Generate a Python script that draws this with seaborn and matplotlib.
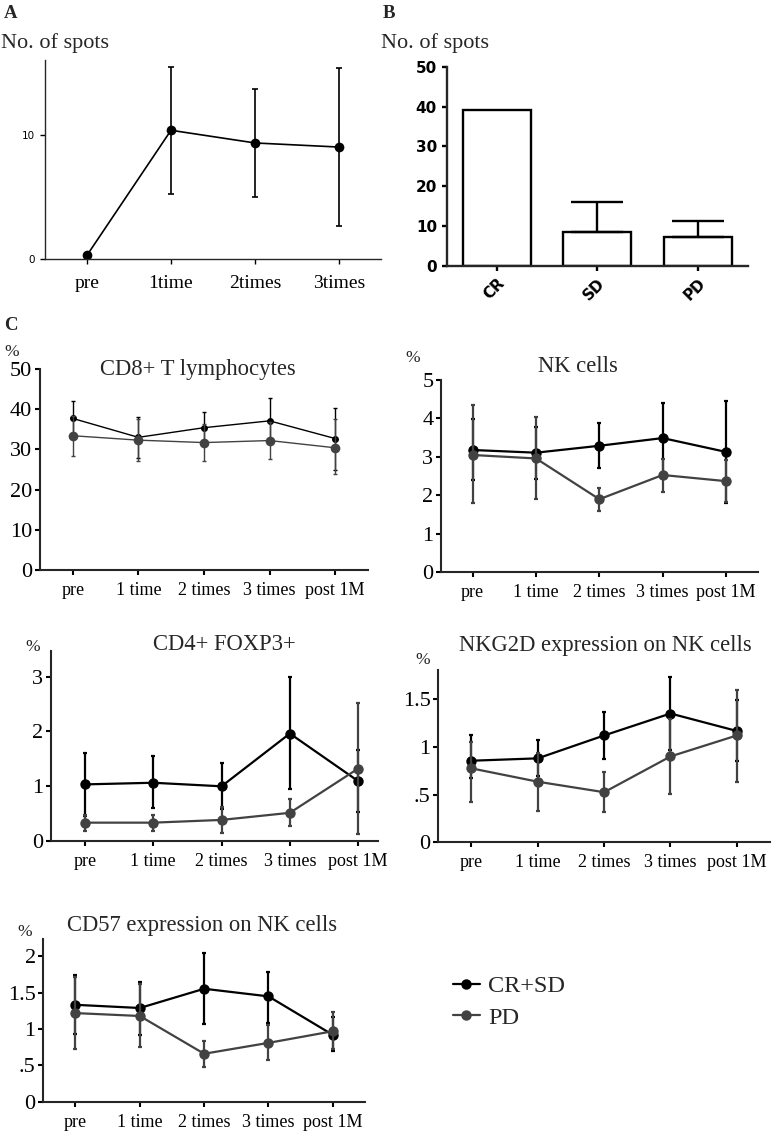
import numpy as np
import pandas as pd
import matplotlib
matplotlib.use("Agg")
import matplotlib.pyplot as plt
import seaborn as sns

# ---- datos ----
a_labels = ['pre', '1time', '2times', '3times']
a_mean = [0.3, 10.35, 9.33, 9.0]
a_lo = [0.3, 5.24, 5.0, 2.68]
a_hi = [0.3, 15.4, 13.7, 15.35]

b_labels = ['CR', 'SD', 'PD']
b_vals = [39.1, 8.45, 7.2]
b_hi = [39.1, 16.0, 11.2]

c_times = ['pre', '1 time', '2 times', '3 times', 'post 1M']

cd8_crsd = [37.7, 33.0, 35.4, 37.1, 32.7]
cd8_crsd_lo = [33.3, 27.9, 31.5, 31.5, 24.9]
cd8_crsd_hi = [42.1, 38.1, 39.3, 42.7, 40.4]
cd8_pd = [33.4, 32.3, 31.7, 32.2, 30.4]
cd8_pd_lo = [28.4, 27.1, 27.1, 27.6, 24.0]
cd8_pd_hi = [38.4, 37.5, 36.3, 36.8, 37.5]

nk_crsd = [3.18, 3.11, 3.29, 3.49, 3.13]
nk_crsd_lo = [2.40, 2.43, 2.71, 2.58, 1.81]
nk_crsd_hi = [3.98, 3.78, 3.89, 4.40, 4.45]
nk_pd = [3.05, 2.96, 1.90, 2.53, 2.37]
nk_pd_lo = [1.80, 1.90, 1.60, 2.08, 1.83]
nk_pd_hi = [4.34, 4.04, 2.20, 2.94, 2.93]

cd4_crsd = [1.03, 1.06, 0.995, 1.96, 1.09]
cd4_crsd_lo = [0.46, 0.59, 0.58, 0.94, 0.53]
cd4_crsd_hi = [1.60, 1.55, 1.43, 3.00, 1.65]
cd4_pd = [0.33, 0.33, 0.38, 0.51, 1.32]
cd4_pd_lo = [0.18, 0.18, 0.135, 0.26, 0.13]
cd4_pd_hi = [0.47, 0.47, 0.62, 0.76, 2.52]

nkg_crsd = [0.855, 0.88, 1.12, 1.35, 1.167]
nkg_crsd_lo = [0.67, 0.69, 0.87, 0.97, 0.85]
nkg_crsd_hi = [1.12, 1.07, 1.37, 1.73, 1.49]
nkg_pd = [0.775, 0.635, 0.525, 0.90, 1.12]
nkg_pd_lo = [0.42, 0.33, 0.32, 0.51, 0.63]
nkg_pd_hi = [1.05, 0.94, 0.74, 1.29, 1.60]

cd57_crsd = [1.334, 1.29, 1.555, 1.45, 0.92]
cd57_crsd_lo = [0.93, 0.92, 1.07, 1.08, 0.70]
cd57_crsd_hi = [1.75, 1.65, 2.05, 1.79, 1.17]
cd57_pd = [1.22, 1.18, 0.66, 0.81, 0.97]
cd57_pd_lo = [0.72, 0.75, 0.48, 0.57, 0.73]
cd57_pd_hi = [1.72, 1.62, 0.84, 1.05, 1.23]

BLACK = '#000000'
GREY = '#424242'

sns.set_style('ticks')
plt.rcParams['font.family'] = ['Liberation Serif', 'DejaVu Serif']

W, H = 777, 1133
fig = plt.figure(figsize=(W / 100, H / 100), dpi=100)


def ax_px(l, t, r, b):
    # crear ejes a partir de coordenadas en pixeles
    return fig.add_axes([l / W, 1 - b / H, (r - l) / W, (b - t) / H])


def txt(x, y, s, **kw):
    fig.text(x / W, 1 - y / H, s, **kw)


def estilo(ax, lw):
    sns.despine(ax=ax)
    for sp in ['left', 'bottom']:
        ax.spines[sp].set_linewidth(lw)
    ax.tick_params(direction='out', width=lw, length=3.5, colors='black')


# ---- A ----
axA = ax_px(45, 60, 381, 259)
dfA = pd.DataFrame({'x': range(4), 'y': a_mean})
sns.lineplot(data=dfA, x='x', y='y', ax=axA, color=BLACK, marker='o',
             markersize=7, markeredgewidth=0, linewidth=1.2)
axA.errorbar(range(4), a_mean,
             yerr=[np.array(a_mean) - np.array(a_lo), np.array(a_hi) - np.array(a_mean)],
             fmt='none', ecolor=BLACK, elinewidth=1.2, capsize=2.5, capthick=1.2)
axA.set_xlim(-0.5, 3.5)
axA.set_ylim(0, 16)
axA.set_xticks(range(4))
axA.set_xticklabels(a_labels, fontsize=14)
axA.set_yticks([0, 10])
axA.set_yticklabels(['0', '10'], fontsize=7.5, family='DejaVu Sans')
axA.set_xlabel('')
axA.set_ylabel('')
estilo(axA, 1.0)
axA.tick_params(axis='x', pad=8)
txt(4, 13, 'A', fontsize=13.5, fontweight='bold', va='center')
txt(1, 43, 'No. of spots', fontsize=16, va='center')

# ---- B ----
axB = ax_px(446.7, 66.7, 748, 266)
sns.barplot(x=b_labels, y=b_vals, ax=axB, color='white', edgecolor='black',
            linewidth=1.7, width=0.68, saturation=1)
b_err_up = [h - v for h, v in zip(b_hi, b_vals)]
axB.errorbar([1, 2], b_vals[1:], yerr=[[0, 0], b_err_up[1:]], fmt='none',
             ecolor='black', elinewidth=1.7, capsize=19, capthick=1.7)
axB.set_xlim(-0.5, 2.5)
axB.set_ylim(0, 50)
axB.set_yticks([0, 10, 20, 30, 40, 50])
estilo(axB, 1.7)
nar = ['Liberation Sans Narrow', 'DejaVu Sans']
for t in axB.get_yticklabels():
    t.set_family(nar)
    t.set_fontweight('bold')
    t.set_fontsize(11)
for t in axB.get_xticklabels():
    t.set_family(nar)
    t.set_fontweight('bold')
    t.set_fontsize(11)
    t.set_rotation(45)
    t.set_ha('right')
    t.set_rotation_mode('anchor')
txt(383, 13, 'B', fontsize=13.5, fontweight='bold', va='center')
txt(381, 43, 'No. of spots', fontsize=16, va='center')

# ---- C ----
txt(4, 325, 'C', fontsize=13.5, fontweight='bold', va='center')


def panel(box, crsd, lo, hi, pdv, pdlo, pdhi, title, tpos, ppos, ylim, yt, ytl,
          lw=1.6, ms_b=7.5, ms_g=7.5, xr=4.5):
    ax = ax_px(*box)
    x = list(range(len(c_times)))
    series = [(crsd, lo, hi, BLACK, ms_b), (pdv, pdlo, pdhi, GREY, ms_g)]
    for vals, l, h, col, ms in series:
        d = pd.DataFrame({'x': x, 'y': vals})
        sns.lineplot(data=d, x='x', y='y', ax=ax, color=col, marker='o',
                     markersize=ms, markeredgewidth=0, linewidth=lw)
        v = np.array(vals)
        ax.errorbar(x, vals, yerr=[v - np.array(l), np.array(h) - v], fmt='none',
                    ecolor=col, elinewidth=lw, capsize=1.5, capthick=lw)
    ax.set_xlim(-0.5, xr)
    ax.set_ylim(*ylim)
    ax.set_xticks(x)
    ax.set_xticklabels(c_times, fontsize=13)
    ax.set_yticks(yt)
    ax.set_yticklabels(ytl, fontsize=16)
    ax.set_xlabel('')
    ax.set_ylabel('')
    estilo(ax, 1.5)
    ax.tick_params(axis='x', pad=5)
    ax.tick_params(axis='y', pad=2)
    txt(tpos[0], tpos[1], title, fontsize=16.3, ha='center', va='center')
    txt(ppos[0], ppos[1], '%', fontsize=12.5, ha='center', va='center')
    return ax


panel((40, 369, 368, 570), cd8_crsd, cd8_crsd_lo, cd8_crsd_hi,
      cd8_pd, cd8_pd_lo, cd8_pd_hi, 'CD8+ T lymphocytes', (198, 369), (12, 352),
      (0, 50), [0, 10, 20, 30, 40, 50], ['0', '10', '20', '30', '40', '50'],
      lw=1.0, ms_b=5, ms_g=7)

panel((441, 380, 757.7, 572.3), nk_crsd, nk_crsd_lo, nk_crsd_hi,
      nk_pd, nk_pd_lo, nk_pd_hi, 'NK cells', (578, 367), (413, 358),
      (0, 5), [0, 1, 2, 3, 4, 5], ['0', '1', '2', '3', '4', '5'])

panel((50.7, 651, 378, 840.7), cd4_crsd, cd4_crsd_lo, cd4_crsd_hi,
      cd4_pd, cd4_pd_lo, cd4_pd_hi, 'CD4+ FOXP3+', (224, 645), (33, 647),
      (0, 3.47), [0, 1, 2, 3], ['0', '1', '2', '3'], xr=4.29)

panel((438.3, 670, 770, 842.3), nkg_crsd, nkg_crsd_lo, nkg_crsd_hi,
      nkg_pd, nkg_pd_lo, nkg_pd_hi, 'NKG2D expression on NK cells', (605, 645),
      (423, 660), (0, 1.806), [0, 0.5, 1, 1.5], ['0', '.5', '1', '1.5'])

ax57 = panel((43.3, 939, 365, 1101.7), cd57_crsd, cd57_crsd_lo, cd57_crsd_hi,
             cd57_pd, cd57_pd_lo, cd57_pd_hi, 'CD57 expression on NK cells', (202, 926),
             (25, 932), (0, 2.24), [0, 0.5, 1, 1.5, 2], ['0', '.5', '1', '1.5', '2'])

# leyenda
lines = [l for l in ax57.get_lines() if l.get_marker() == 'o']
fig.legend(lines[:2], ['CR+SD', 'PD'], loc='center left',
           bbox_to_anchor=(431 / W, 1 - 1002 / H), frameon=False, fontsize=17.5,
           handlelength=1.1, handletextpad=0.35, labelspacing=0.4)

fig.savefig('out.png', dpi=100)
